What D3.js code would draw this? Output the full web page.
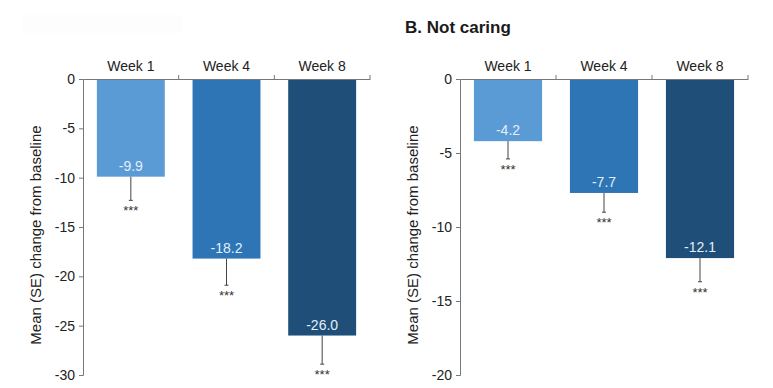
<!DOCTYPE html>
<html>
<head>
<meta charset="utf-8">
<script src="https://cdn.jsdelivr.net/npm/d3@7"></script>
<style>
  body { margin: 0; background: #fff; }
  svg text { font-family: "Liberation Sans", Arial, sans-serif; }
</style>
</head>
<body>
<div id="chart"></div>
<script>
var width = 773;
var height = 388;

var weeks = ["Week 1", "Week 4", "Week 8"];
var barColors = ["#5b9bd5", "#2e75b6", "#1f4e79"];

// panel A (title blurred out in the source)
var meansA = [-9.9, -18.2, -26.0];
var seA = [2.4, 2.7, 2.9];
var ticksA = [0, -5, -10, -15, -20, -25, -30];

// panel B
var meansB = [-4.2, -7.7, -12.1];
var seB = [1.2, 1.3, 1.6];
var ticksB = [0, -5, -10, -15, -20];

var sigLabel = "***";
var yLabel = "Mean (SE) change from baseline";

var svg = d3.select("#chart")
    .append("svg")
    .attr("width", width)
    .attr("height", height);

// faint smudge where panel A's title was removed
svg.append("rect")
    .attr("x", 23).attr("y", 15)
    .attr("width", 160).attr("height", 18)
    .style("fill", "#fdfdfd");

svg.append("text")
    .attr("x", 405)
    .attr("y", 33)
    .style("font-size", "17px")
    .style("font-weight", "bold")
    .style("fill", "#1a1a1a")
    .text("B. Not caring");

function drawPanel(x0, x1, yMin, means, se, ticks) {
    var top = 79, bottom = 375;
    var g = svg.append("g");

    var x = d3.scaleBand()
        .domain(weeks)
        .range([x0, x1])
        .paddingInner(0.29)
        .paddingOuter(0.145);

    var y = d3.scaleLinear()
        .domain([0, yMin])
        .range([top, bottom]);

    // bars
    g.selectAll("rect.bar")
        .data(means)
        .enter()
        .append("rect")
        .attr("class", "bar")
        .attr("x", function (d, i) { return x(weeks[i]); })
        .attr("y", y(0))
        .attr("width", x.bandwidth())
        .attr("height", function (d) { return y(d) - y(0); })
        .style("fill", function (d, i) { return barColors[i]; });

    // error bars
    g.selectAll("line.err")
        .data(means)
        .enter()
        .append("line")
        .attr("x1", function (d, i) { return x(weeks[i]) + x.bandwidth() / 2; })
        .attr("x2", function (d, i) { return x(weeks[i]) + x.bandwidth() / 2; })
        .attr("y1", function (d) { return y(d); })
        .attr("y2", function (d, i) { return y(d - se[i]); })
        .style("stroke", "#444")
        .style("stroke-width", 1);

    g.selectAll("line.cap")
        .data(means)
        .enter()
        .append("line")
        .attr("x1", function (d, i) { return x(weeks[i]) + x.bandwidth() / 2 - 2; })
        .attr("x2", function (d, i) { return x(weeks[i]) + x.bandwidth() / 2 + 2; })
        .attr("y1", function (d, i) { return y(d - se[i]); })
        .attr("y2", function (d, i) { return y(d - se[i]); })
        .style("stroke", "#444")
        .style("stroke-width", 1);

    // value labels
    g.selectAll("text.val")
        .data(means)
        .enter()
        .append("text")
        .attr("x", function (d, i) { return x(weeks[i]) + x.bandwidth() / 2; })
        .attr("y", function (d) { return y(d) - 6; })
        .attr("text-anchor", "middle")
        .style("font-size", "14px")
        .style("fill", "#e4eef8")
        .text(function (d) { return d.toFixed(1); });

    // significance
    g.selectAll("text.sig")
        .data(means)
        .enter()
        .append("text")
        .attr("x", function (d, i) { return x(weeks[i]) + x.bandwidth() / 2; })
        .attr("y", function (d, i) { return y(d - se[i]) + 15; })
        .attr("text-anchor", "middle")
        .style("font-size", "13px")
        .style("fill", "#333")
        .text(sigLabel);

    // y axis
    var yAxis = d3.axisLeft(y)
        .tickValues(ticks)
        .tickFormat(function (d) { return String(d); })
        .tickSize(4)
        .tickPadding(4);

    var ya = g.append("g")
        .attr("transform", "translate(" + x0 + ",0)")
        .call(yAxis);
    ya.select(".domain").style("stroke", "#777");
    ya.selectAll(".tick line").style("stroke", "#777");
    ya.selectAll(".tick text")
        .style("font-size", "14px")
        .style("fill", "#222")
        .style("font-family", "Liberation Sans, Arial, sans-serif");

    // top axis with category labels
    var xAxis = d3.axisTop(x).tickSize(0).tickPadding(8);
    var xa = g.append("g")
        .attr("transform", "translate(0," + top + ")")
        .call(xAxis);
    xa.select(".domain").style("stroke", "#777");
    xa.selectAll(".tick text")
        .style("font-size", "14px")
        .style("fill", "#222")
        .style("font-family", "Liberation Sans, Arial, sans-serif");

    // boundary ticks between categories
    var step = x.step();
    var bounds = weeks.map(function (w) { return x(w) - x.paddingInner() * step / 2 + step; });
    g.selectAll("line.bnd")
        .data(bounds)
        .enter()
        .append("line")
        .attr("x1", function (d) { return d; })
        .attr("x2", function (d) { return d; })
        .attr("y1", top)
        .attr("y2", top - 4)
        .style("stroke", "#777");

    // y label
    g.append("text")
        .attr("transform", "translate(" + (x0 - 42) + "," + ((top + bottom) / 2 + 8) + ") rotate(-90)")
        .attr("text-anchor", "middle")
        .style("font-size", "15px")
        .style("fill", "#222")
        .text(yLabel);
}

drawPanel(83, 370, -30, meansA, seA, ticksA);
drawPanel(460, 748, -20, meansB, seB, ticksB);
</script>
</body>
</html>
